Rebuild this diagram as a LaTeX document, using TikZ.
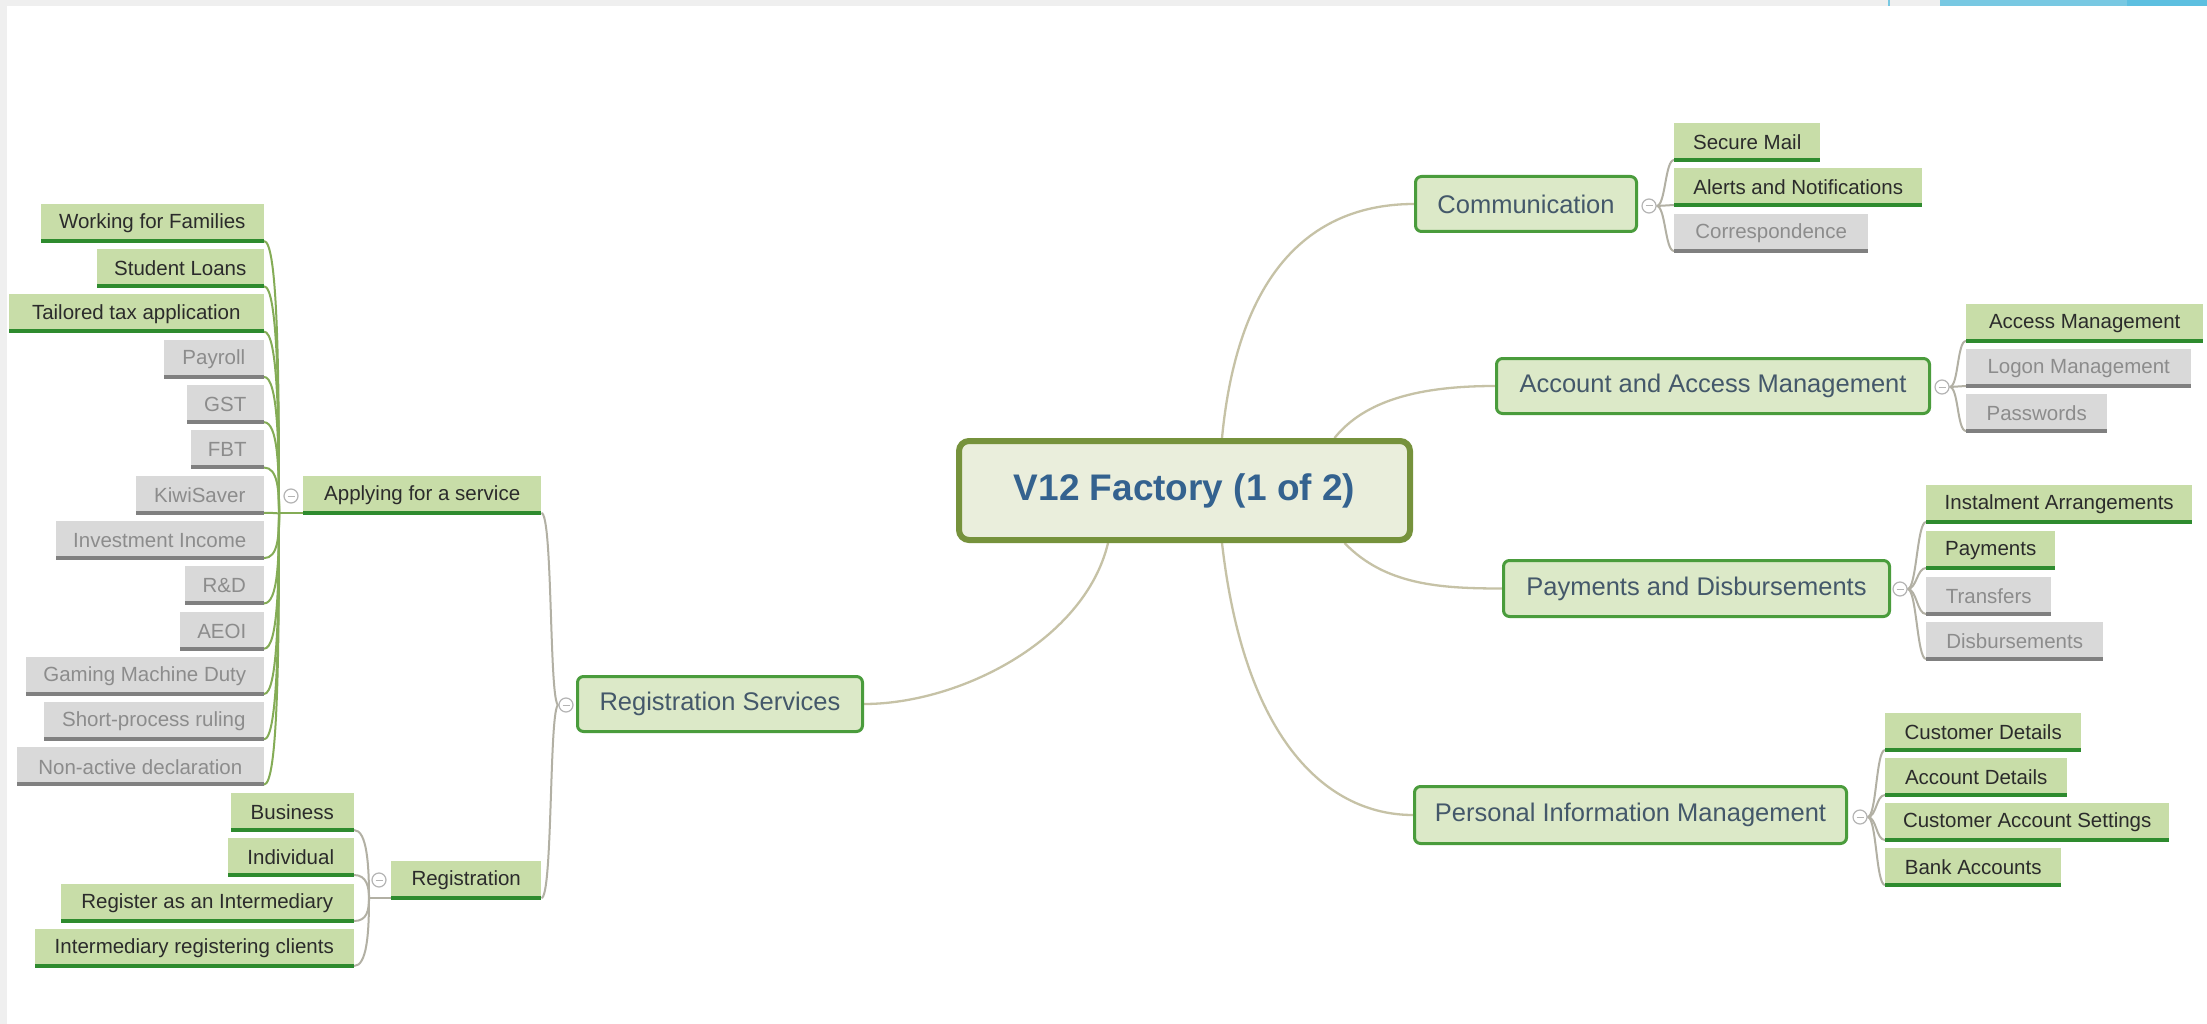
\documentclass[tikz,border=0pt]{standalone}
\usepackage{fontspec}
\setmainfont{Liberation Sans}
\usetikzlibrary{calc}
\definecolor{gfill}{HTML}{C8DDA8}
\definecolor{gline}{HTML}{2E8B2E}
\definecolor{gtext}{HTML}{2B2B2B}
\definecolor{xfill}{HTML}{D9D9D9}
\definecolor{xline}{HTML}{808080}
\definecolor{xtext}{HTML}{8C8C8C}
\definecolor{mfill}{HTML}{DCE9C8}
\definecolor{mdraw}{HTML}{4A9C3C}
\definecolor{mtext}{HTML}{44586A}
\definecolor{cfill}{HTML}{EAEEDC}
\definecolor{cdraw}{HTML}{76923C}
\definecolor{ctext}{HTML}{34628F}
\definecolor{conn}{HTML}{C6C2A6}
\definecolor{gconn}{HTML}{84AC56}
\definecolor{sconn}{HTML}{B2B0A4}
\definecolor{togc}{HTML}{B4B4B4}
\definecolor{barg}{HTML}{EFEFEF}
\definecolor{barb}{HTML}{78C8E2}
\definecolor{barbd}{HTML}{5DBFE0}
\pgfdeclarelayer{bg}
\pgfsetlayers{bg,main}
\tikzset{
  leaf/.style={rectangle, inner xsep=3pt, inner ysep=0pt, minimum height=39pt,
    font=\fontsize{20.5}{24}\selectfont,
    path picture={\fill[#1] (path picture bounding box.south west) rectangle ([yshift=4pt]path picture bounding box.south east);}},
  gleaf/.style={leaf=gline, fill=gfill, text=gtext},
  xleaf/.style={leaf=xline, fill=xfill, text=xtext},
  topic/.style={rectangle, rounded corners=6pt, draw=mdraw, line width=3pt, fill=mfill,
    text=mtext, font=\fontsize{25.5}{30}\selectfont, inner sep=0pt},
  central/.style={rectangle, rounded corners=10pt, draw=cdraw, line width=6pt, fill=cfill,
    text=ctext, font=\fontsize{37}{44}\selectfont\bfseries, inner sep=0pt},
  toggle/.style={circle, draw=togc, line width=1.2pt, fill=white, minimum size=14pt, inner sep=0pt,
    path picture={\draw[togc, line width=1pt] ([xshift=3.5pt]path picture bounding box.west) -- ([xshift=-3.5pt]path picture bounding box.east);}},
  mainconn/.style={draw=conn, line width=2.3pt},
  gconnl/.style={draw=gconn, line width=2pt},
  sconnl/.style={draw=sconn, line width=2pt}
}
\begin{document}
\begin{tikzpicture}[x=1pt, y=-1pt]
\useasboundingbox (0,0) rectangle (2207,1024);

% central
\node[central, minimum width=451pt, minimum height=99pt] (c) at (1184.5,490.5) {V12 Factory (1 of 2)};

% main topics
\node[topic, minimum width=285pt, minimum height=55pt] (rs) at (720,704) {Registration Services};
\node[topic, minimum width=221pt, minimum height=55pt] (comm) at (1526,204) {Communication};
\node[topic, minimum width=433pt, minimum height=55pt] (acc) at (1713,386) {Account and Access Management};
\node[topic, minimum width=386pt, minimum height=56pt] (pay) at (1696.5,588.5) {Payments and Disbursements};
\node[topic, minimum width=432pt, minimum height=57pt] (pim) at (1630.5,815) {Personal Information Management};

% second level on the left
\node[gleaf, anchor=south west, minimum width=238pt] (app) at (303,515) {Applying for a service};
\node[gleaf, anchor=south west, minimum width=150pt] (reg) at (391,900) {Registration};

% leaves of Applying for a service
\foreach \nm/\lx/\bt/\st/\tx in {
  wff/41/243.0/gleaf/Working for Families,
  stl/97/288.3/gleaf/Student Loans,
  tta/9/333.6/gleaf/Tailored tax application,
  pyr/164/378.9/xleaf/Payroll,
  gst/187/424.2/xleaf/GST,
  fbt/191/469.5/xleaf/FBT,
  kiw/136/514.8/xleaf/KiwiSaver,
  inv/56/560.1/xleaf/Investment Income,
  rnd/185/605.4/xleaf/R\&D,
  aeo/180/650.7/xleaf/AEOI,
  gmd/26/696.0/xleaf/Gaming Machine Duty,
  spr/44/741.3/xleaf/Short-process ruling,
  nad/17/786.6/xleaf/Non-active declaration}
  \node[\st, anchor=south east, minimum width={264-\lx}] (\nm) at (264,\bt) {\tx};

% leaves of Registration
\foreach \nm/\lx/\bt/\tx in {
  bus/231/832/Business,
  ind/228/877/Individual,
  rai/61/923/Register as an Intermediary,
  irc/35/968/Intermediary registering clients}
  \node[gleaf, anchor=south east, minimum width={354-\lx}] (\nm) at (354,\bt) {\tx};

% leaves on the right
\foreach \nm/\lx/\bt/\w/\st/\tx in {
  sml/1674/162/146/gleaf/Secure Mail,
  aan/1674/207/248/gleaf/Alerts and Notifications,
  cor/1674/253/194/xleaf/Correspondence,
  acm/1966/343/237/gleaf/Access Management,
  lgm/1966/388/225/xleaf/Logon Management,
  pwd/1966/433/141/xleaf/Passwords,
  ina/1926/524/266/gleaf/Instalment Arrangements,
  pmt/1926/570/129/gleaf/Payments,
  trf/1926/616/125/xleaf/Transfers,
  dsb/1926/661/177/xleaf/Disbursements,
  cud/1885/752/196/gleaf/Customer Details,
  acd/1885/797/182/gleaf/Account Details,
  cas/1885/842/284/gleaf/Customer Account Settings,
  bka/1885/887/176/gleaf/Bank Accounts}
  \node[\st, anchor=south west, minimum width=\w] (\nm) at (\lx,\bt) {\tx};

% toggles
\node[toggle] (appt) at (291,496) {};
\node[toggle] (regt) at (379,880) {};
\node[toggle] (rst) at (566,705) {};
\node[toggle] (commt) at (1649,206) {};
\node[toggle] (acct) at (1942,387) {};
\node[toggle] (payt) at (1900,589) {};
\node[toggle] (pimt) at (1860,817) {};

% hubs where leaf connectors meet
\coordinate (apph) at (279,513);
\coordinate (regh) at (369,898);

\begin{pgfonlayer}{bg}
  \fill[white] (0,0) rectangle (2207,1024);
  % screen edges
  \fill[barg] (0,0) rectangle (2207,6);
  \fill[barg] (0,0) rectangle (7,1024);
  \fill[barb] (1940,0) rectangle (2207,6);
  \fill[barbd] (2127,0) rectangle (2207,6);
  \fill[barb] (1888,0) rectangle (1890,6);
  % central to main topics
  \draw[mainconn] ([xshift=-76.5pt]c.south) .. controls (1085,640) and (960,704) .. (rs.east);
  \draw[mainconn] ([xshift=37.5pt]c.north) .. controls (1240,250) and (1330,204) .. (comm.west);
  \draw[mainconn] ([xshift=150pt]c.north) .. controls (1365,400) and (1420,386) .. (acc.west);
  \draw[mainconn] ([xshift=160pt]c.south) .. controls (1385,585) and (1440,588.5) .. (pay.west);
  \draw[mainconn] ([xshift=37.5pt]c.south) .. controls (1245,745) and (1330,815) .. (pim.west);
  % registration services to its children
  \draw[sconnl] (rst.west) .. controls (549,705) and (553,513) .. ([yshift=2pt]app.south east);
  \draw[sconnl] (rst.west) .. controls (549,705) and (553,898) .. ([yshift=2pt]reg.south east);
  % applying for a service leaves
  \draw[gconnl] (apph) -- ([yshift=2pt]app.south west);
  \foreach \nm in {wff,stl,tta,pyr,gst,fbt,kiw,inv,rnd,aeo,gmd,spr,nad}
    \draw[gconnl] ([yshift=2pt]\nm.south east) .. controls +(14,0) and ($(apph)!0.5!(apph |- \nm.south east)$) .. (apph);
  % registration leaves
  \draw[sconnl] (regh) -- ([yshift=2pt]reg.south west);
  \foreach \nm in {bus,ind,rai,irc}
    \draw[sconnl] ([yshift=2pt]\nm.south east) .. controls +(13,0) and ($(regh)!0.5!(regh |- \nm.south east)$) .. (regh);
  % right side leaves
  \foreach \nm in {sml,aan,cor}
    \draw[sconnl] (commt.east) .. controls +(9,0) and +(-9,0) .. ([yshift=2pt]\nm.south west);
  \foreach \nm in {acm,lgm,pwd}
    \draw[sconnl] (acct.east) .. controls +(9,0) and +(-9,0) .. ([yshift=2pt]\nm.south west);
  \foreach \nm in {ina,pmt,trf,dsb}
    \draw[sconnl] (payt.east) .. controls +(9,0) and +(-9,0) .. ([yshift=2pt]\nm.south west);
  \foreach \nm in {cud,acd,cas,bka}
    \draw[sconnl] (pimt.east) .. controls +(9,0) and +(-9,0) .. ([yshift=2pt]\nm.south west);
\end{pgfonlayer}
\end{tikzpicture}
\end{document}
